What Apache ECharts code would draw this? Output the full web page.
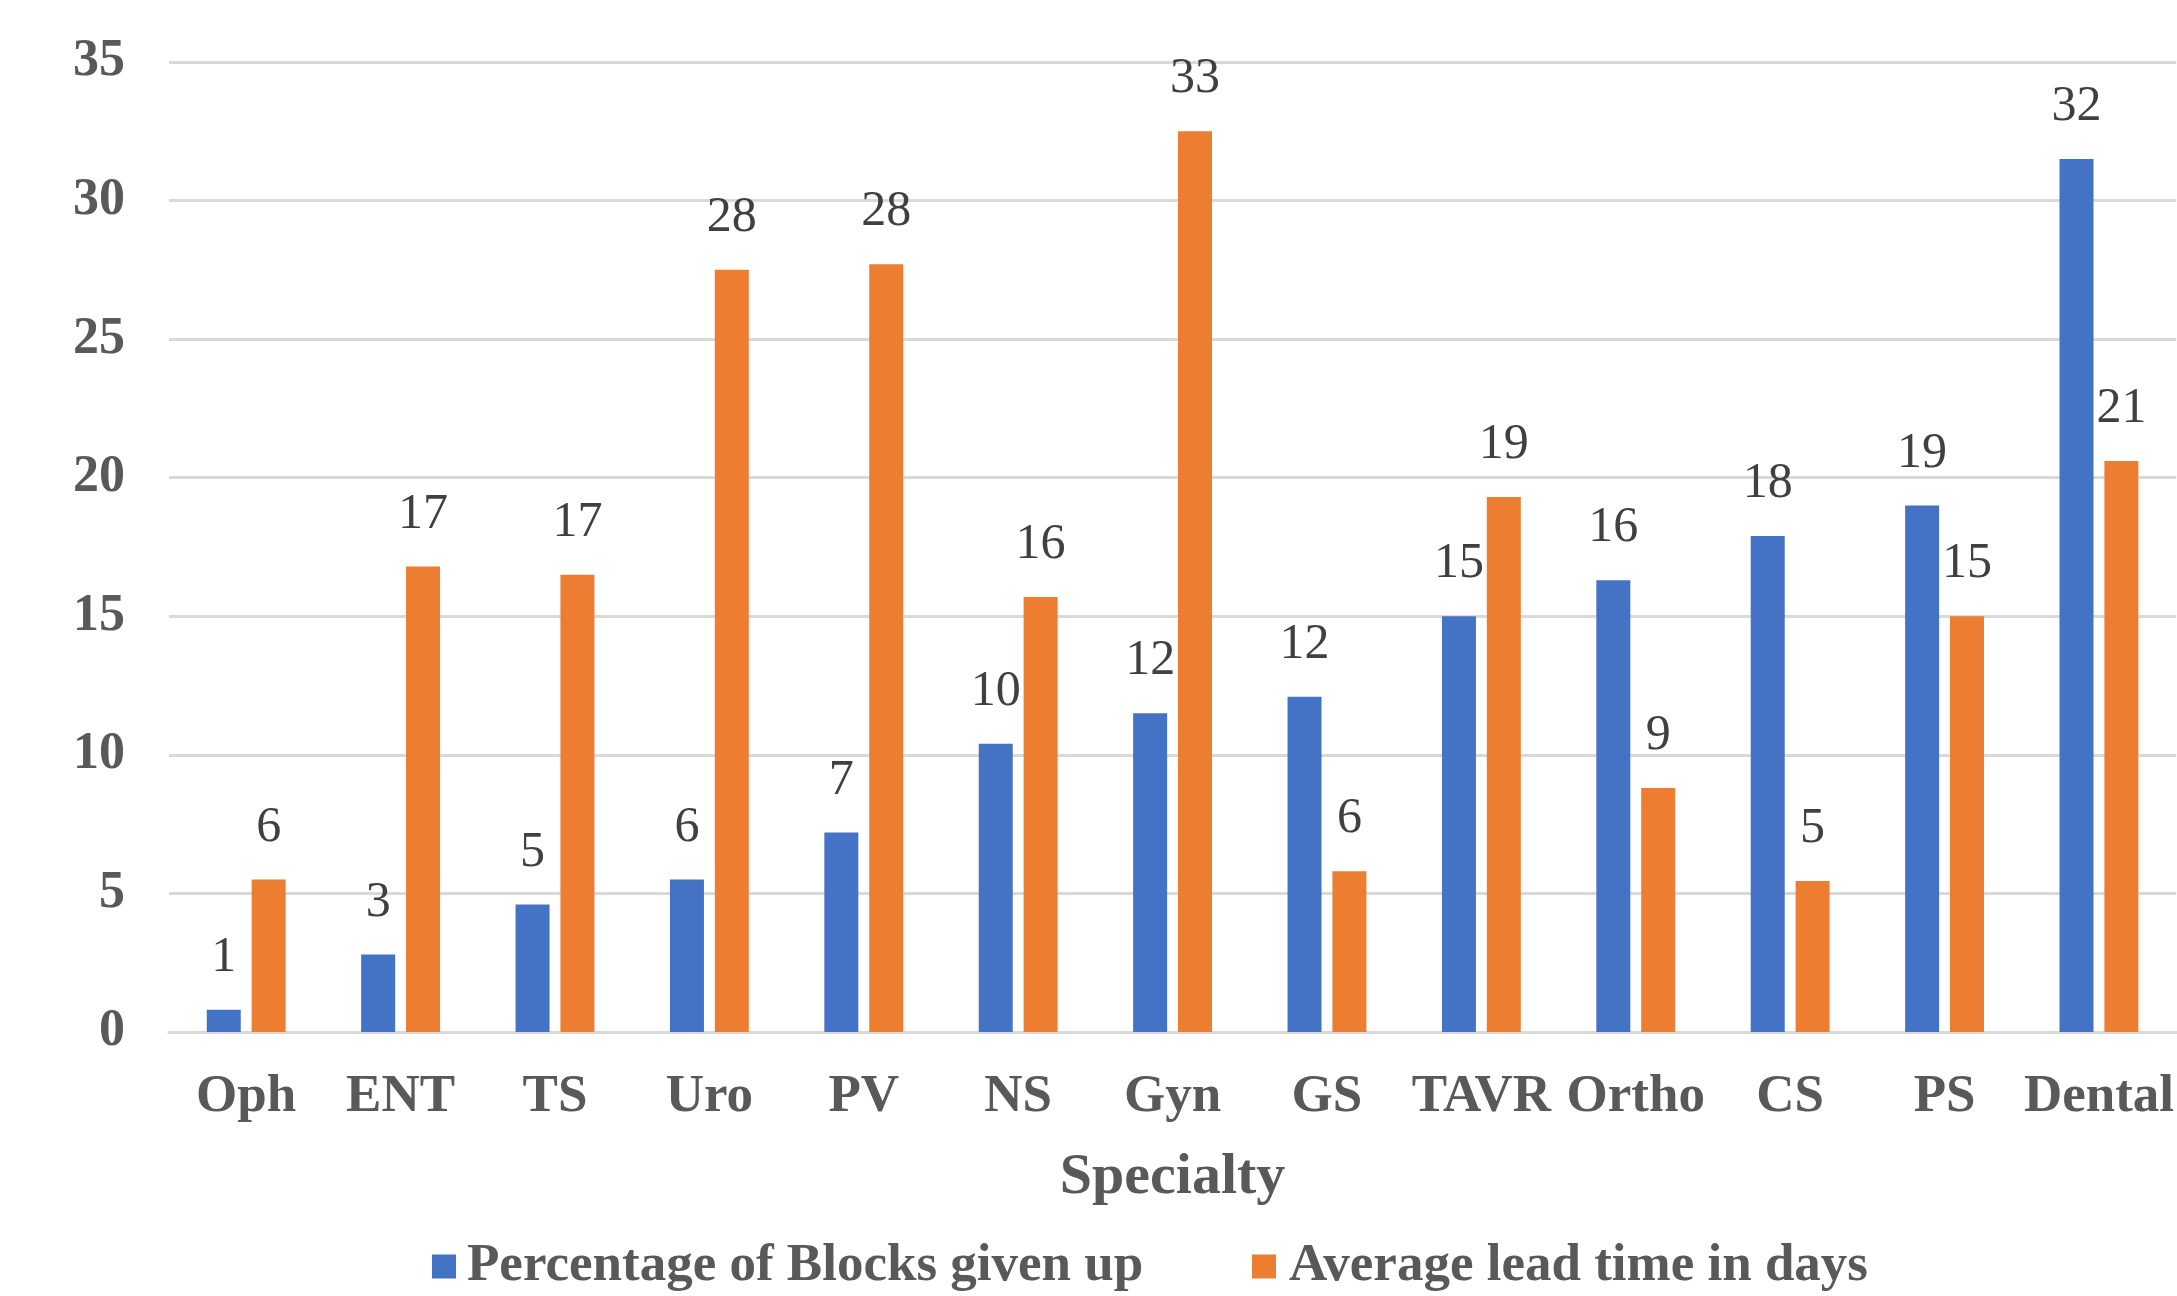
<!DOCTYPE html>
<html>
<head>
<meta charset="utf-8">
<title>Blocks given up and lead time by specialty</title>
<script src="https://cdn.jsdelivr.net/npm/echarts@6/dist/echarts.min.js"></script>
<style>
  html, body { margin: 0; padding: 0; background: #ffffff; }
  #chart { width: 2177px; height: 1296px; }
</style>
</head>
<body>
<div id="chart"></div>
<script>
// Specialties along the x axis
const specialties = ['Oph', 'ENT', 'TS', 'Uro', 'PV', 'NS', 'Gyn', 'GS', 'TAVR', 'Ortho', 'CS', 'PS', 'Dental'];

// Percentage of blocks given up, per specialty
const blocksGivenUp = [0.8, 2.8, 4.6, 5.5, 7.2, 10.4, 11.5, 12.1, 15.0, 16.3, 17.9, 19.0, 31.5];

// Average lead time in days, per specialty
const leadTimeDays = [5.5, 16.8, 16.5, 27.5, 27.7, 15.7, 32.5, 5.8, 19.3, 8.8, 5.45, 15.0, 20.6];

// Value axis range
const yMin = 0;
const yMax = 35;
const yStep = 5;

const seriesNames = ['Percentage of Blocks given up', 'Average lead time in days'];

const serif = '"Liberation Serif", "Times New Roman", serif';
const axisGray = '#595959';
const labelGray = '#404040';

const chart = echarts.init(document.getElementById('chart'), null, { renderer: 'canvas' });

const dataLabel = {
  show: true,
  position: 'top',
  distance: 27,
  fontFamily: serif,
  fontSize: 50,
  color: labelGray,
  formatter: p => String(Math.round(p.value))
};

chart.setOption({
  backgroundColor: '#ffffff',
  animation: false,
  grid: { left: 169, right: 0, top: 62, bottom: 264, containLabel: false },
  legend: [
    {
      data: [seriesNames[0]],
      left: 427, top: 1235,
      icon: 'rect', itemWidth: 24, itemHeight: 24,
      textStyle: { fontFamily: serif, fontSize: 53, fontWeight: 'bold', color: axisGray, padding: [0, 0, 0, 6] }
    },
    {
      data: [seriesNames[1]],
      left: 1247, top: 1235,
      icon: 'rect', itemWidth: 24, itemHeight: 24,
      textStyle: { fontFamily: serif, fontSize: 53, fontWeight: 'bold', color: axisGray, padding: [0, 0, 0, 8] }
    }
  ],
  xAxis: {
    type: 'category',
    data: specialties,
    name: 'Specialty',
    nameLocation: 'middle',
    nameGap: 117,
    nameTextStyle: { fontFamily: serif, fontSize: 58, fontWeight: 'bold', color: axisGray },
    axisLine: { show: true, lineStyle: { color: '#d9d9d9', width: 3 } },
    axisTick: { show: false },
    axisLabel: { interval: 0, margin: 39, fontFamily: serif, fontSize: 53, fontWeight: 'bold', color: axisGray }
  },
  yAxis: {
    type: 'value',
    min: yMin, max: yMax, interval: yStep,
    axisLine: { show: false },
    axisTick: { show: false },
    splitLine: { show: true, lineStyle: { color: '#d9d9d9', width: 3 } },
    axisLabel: { margin: 44, fontFamily: serif, fontSize: 52, fontWeight: 'bold', color: axisGray }
  },
  series: [
    {
      name: seriesNames[0],
      type: 'bar',
      data: blocksGivenUp,
      barWidth: 34,
      barGap: '32%',
      itemStyle: { color: '#4472c4' },
      label: dataLabel
    },
    {
      name: seriesNames[1],
      type: 'bar',
      data: leadTimeDays,
      barWidth: 34,
      barGap: '32%',
      itemStyle: { color: '#ed7d31' },
      label: dataLabel
    }
  ]
});
</script>
</body>
</html>
